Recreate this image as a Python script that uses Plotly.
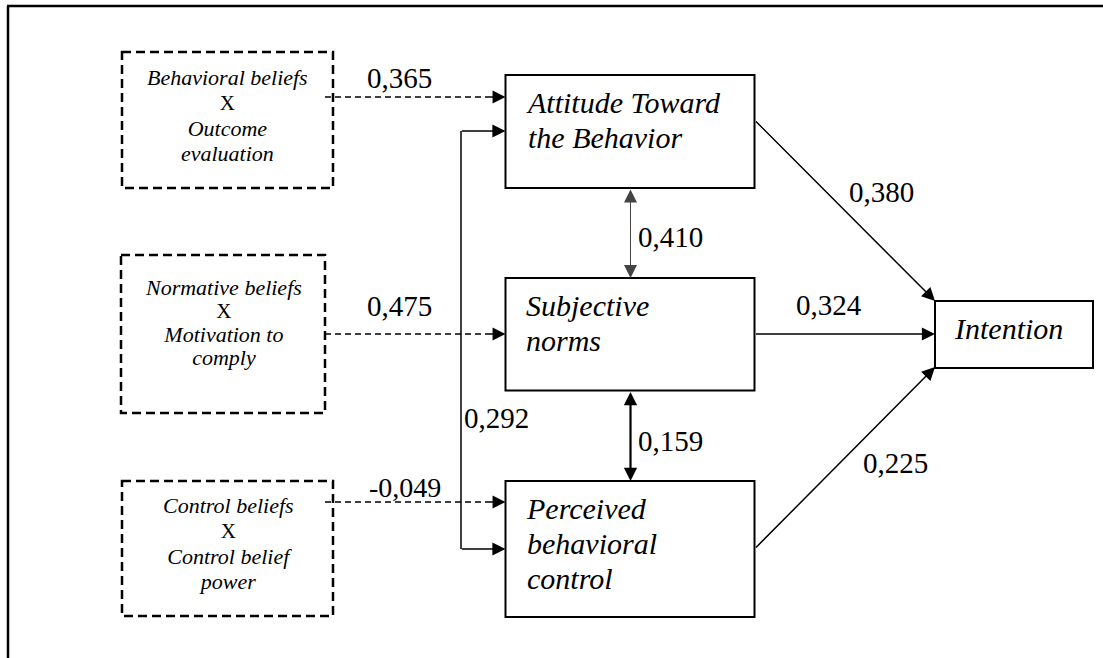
import plotly.graph_objects as go

# ---------------- data ----------------
belief_lines = [
    ["Behavioral beliefs", "X", "Outcome", "evaluation"],
    ["Normative beliefs", "X", "Motivation to", "comply"],
    ["Control beliefs", "X", "Control belief", "power"],
]
construct_lines = [
    ["Attitude Toward", "the Behavior"],
    ["Subjective", "norms"],
    ["Perceived", "behavioral", "control"],
]
outcome_label = "Intention"
belief_coefs = [0.365, 0.475, -0.049]        # belief composite -> construct
construct_coefs = [0.380, 0.324, 0.225]      # construct -> intention
corr_coefs = [0.410, 0.159, 0.292]           # ATB-SN, SN-PBC, ATB-PBC


def fmt(v):
    return f"{v:.3f}".replace(".", ",")


# ---------------- layout geometry (pixels) ----------------
W, H = 1103, 658
SERIF = "Liberation Serif"

belief_box_x = [(122, 333), (121, 325), (122, 333)]
belief_box_y = [(52, 188), (255, 413), (481, 616)]
belief_text_pos = [(227, 115, 19.5), (223.5, 322, 18), (228, 543, 19.5)]  # x, center y, line pitch base
belief_arrow_y = [97, 334, 502]
belief_coef_pos = [(399, 78, 29), (399, 306, 29), (404.5, 487, 28)]

cons_x = (505.5, 754.5)
cons_y = [(75, 188), (278, 390.5), (481, 617)]
cons_text_y = [120, 323, 543]
cons_text_x = 524

int_x = (935, 1093)
int_y = (301, 368)

cons_out = [(754.5, 120), (754.5, 334), (754.5, 549)]
int_in = [(935, 301), (935, 334), (935, 367)]
cons_coef_pos = [(881, 192), (828.5, 305), (895.5, 463)]

corr_x = 630.5
fb_x, fb_y = 461, (131, 549)
corr_coef_pos = [(670, 237), (670, 441), (496.5, 418)]

fig = go.Figure()


def add_text(x, y, text, size, xanchor="center", align="center"):
    fig.add_annotation(x=x, y=y, xref="x", yref="y", text=text, showarrow=False,
                       xanchor=xanchor, yanchor="middle", align=align,
                       font=dict(family=SERIF, size=size, color="black"))


def add_arrow(x, y, ax, ay, width, size, color="black", both=False):
    kw = dict(x=x, y=y, ax=ax, ay=ay, xref="x", yref="y", axref="x", ayref="y",
              text="", showarrow=True, arrowhead=2, arrowsize=size, arrowwidth=width,
              arrowcolor=color, standoff=0)
    if both:
        kw.update(arrowside="end+start", startarrowhead=2, startarrowsize=size, startstandoff=0)
    fig.add_annotation(**kw)


# outer frame (left + top)
fig.add_shape(type="line", x0=8, y0=6, x1=8, y1=H, line=dict(color="black", width=2.5))
fig.add_shape(type="line", x0=7, y0=6, x1=W, y1=6, line=dict(color="black", width=2.5))

# dashed belief boxes
for i in range(3):
    x0, x1 = belief_box_x[i]
    y0, y1 = belief_box_y[i]
    fig.add_shape(type="rect", x0=x0, x1=x1, y0=y0, y1=y1,
                  line=dict(color="black", width=2.5, dash="9px,5px"))
    parts = []
    for txt in belief_lines[i]:
        if txt == "X":
            parts.append(f"<span style='font-size:21px'>{txt}</span>")
        else:
            parts.append(f"<span style='font-size:22px'><i>{txt}</i></span>")
    tx, ty, base = belief_text_pos[i]
    add_text(tx, ty, "<br>".join(parts), base)
    ay = belief_arrow_y[i]
    fig.add_shape(type="line", x0=325, x1=cons_x[0] - 12, y0=ay, y1=ay,
                  line=dict(color="black", width=1.4, dash="6px,4px"))
    add_arrow(cons_x[0], ay, cons_x[0] - 16, ay, 1.4, 1.85)
    cx, cy, cs = belief_coef_pos[i]
    add_text(cx, cy, fmt(belief_coefs[i]), cs)

# construct boxes
for i in range(3):
    y0, y1 = cons_y[i]
    fig.add_shape(type="rect", x0=cons_x[0], x1=cons_x[1], y0=y0, y1=y1,
                  line=dict(color="black", width=2))
    txt = "<br>".join(f"<span style='font-size:30px'><i>{t}</i></span>" for t in construct_lines[i])
    add_text(cons_text_x, cons_text_y[i], txt, 27, xanchor="left", align="left")
    (sx, sy), (ex, ey) = cons_out[i], int_in[i]
    add_arrow(ex, ey, sx, sy, 1.5, 1.75)
    cx, cy = cons_coef_pos[i]
    add_text(cx, cy, fmt(construct_coefs[i]), 29)

# intention box
fig.add_shape(type="rect", x0=int_x[0], x1=int_x[1], y0=int_y[0], y1=int_y[1],
              line=dict(color="black", width=2))
add_text(952, 328, f"<i>{outcome_label}</i>", 30, xanchor="left", align="left")

# correlations (double-headed)
add_arrow(corr_x, cons_y[1][0], corr_x, cons_y[0][1], 1, 2.6, color="#444", both=True)
add_arrow(corr_x, cons_y[2][0], corr_x, cons_y[1][1], 2.2, 1.2, both=True)

# feedback ATB <-> PBC elbow
fig.add_shape(type="line", x0=fb_x, x1=fb_x, y0=fb_y[0], y1=fb_y[1],
              line=dict(color="black", width=1.5))
for yy in fb_y:
    add_arrow(cons_x[0], yy, fb_x - 0.7, yy, 1.5, 1.75)

for (cx, cy), v in zip(corr_coef_pos, corr_coefs):
    add_text(cx, cy, fmt(v), 29)

fig.update_layout(
    width=W, height=H, margin=dict(l=0, r=0, t=0, b=0),
    font=dict(family=SERIF, color="black"),
    paper_bgcolor="white", plot_bgcolor="white",
    xaxis=dict(range=[0, W], visible=False, fixedrange=True),
    yaxis=dict(range=[H, 0], visible=False, fixedrange=True),
    showlegend=False,
)

fig.write_html("out.html", config={"displayModeBar": False},
               post_script="document.body.style.margin='0';document.body.style.overflow='hidden';")
